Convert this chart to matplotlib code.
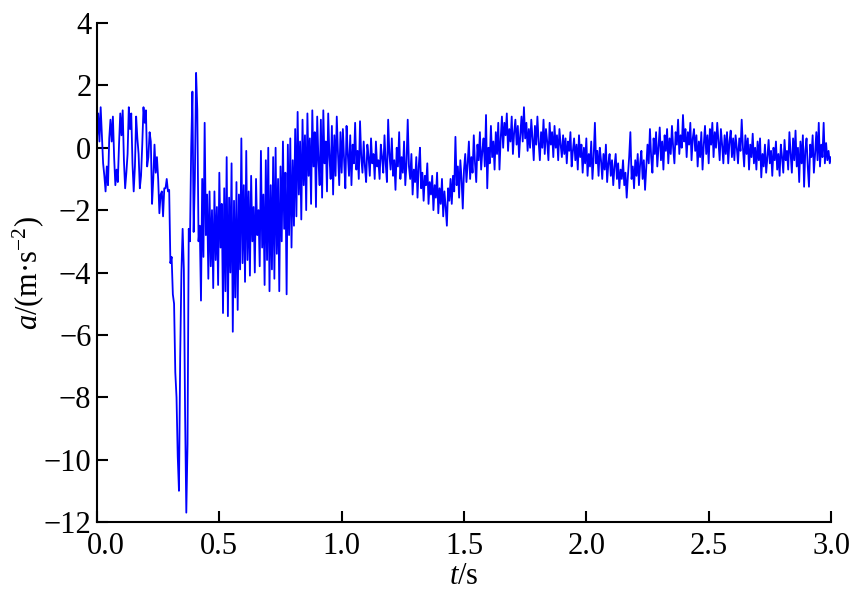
import numpy as np
import matplotlib
matplotlib.use("Agg")
import matplotlib.pyplot as plt
import matplotlib.transforms as mtransforms

# acceleration, one sample every 5 ms (rows of 10 = 0.05 s)
fs = 200

a_pre = [
    0.3, 1.1, 0.2, 1.3, 0.4, -0.5, -0.9, -1.4, -0.6, -1.2,
    0.3, 0.9, 0.2, 1.0, -0.3, -1.2, -0.7, -1.1, 0.1, 1.1,
    0.4, 1.2, -0.4, -1.3, -0.8, -0.2, 1.3, 0.6, 1.1, -0.5,
    -1.4, -0.6, 1.0, 0.3, -0.2, -1.3, -0.9, 0.1, 1.3, 0.8,
    1.2, -0.6, -0.3, 0.5, 0.2, -1.8, -1.0, 0.1, -0.8, -0.3,
    -1.0, -2.1, -1.5, -1.4, -2.2, -1.3, -1.3, -1.0, -1.4, -1.35,
]

a_impact = [
    -3.7, -3.5, -4.7, -5.0, -7.2, -8.0, -9.9, -11.0, -6.7, -4.0,
    -2.6, -3.9, -8.5, -11.7, -9.5, -2.6, -3.0, 0.0, 1.8, -2.7,
    -1.0, 2.4, 1.2, -3.0, -2.5, -4.9, -1.0, -3.5, 0.8, -2.8,
    -1.5, -4.2, -1.4, -3.8, -2.0, -4.5, -1.4, -3.6, -1.9, -4.4,
    -0.8, -3.2, -1.8, -5.3, -1.3, -4.6, -0.3, -5.4, -1.6, -4.0,
    -0.5, -5.9, -1.7, -4.8, -1.1, -5.2, -1.5, -3.9, 0.3, -3.7,
    -1.2, -4.3, -0.1, -3.6, -1.4, -4.1, -0.9, -3.0, -1.9, -4.0,
    -1.0, -2.8, -2.0, -3.8, -0.1, -3.2, -1.5, -4.4, -0.4, -3.6,
    0.0, -4.6, -1.2, -3.9, -0.3, -4.2, 0.0, -3.4, -1.0, -4.6,
    -0.6, -3.0, 0.2, -2.6, -0.8, -4.7, 0.1, -2.8, 0.3, -3.2,
]

a_decay = [
    -0.4, -2.5, 0.6, -2.2, 1.15, -1.5, 0.2, -2.3, 0.9, -1.2,
    0.4, -2.0, 1.1, -0.9, 0.3, -1.8, 1.2, -0.6, 0.5, -1.9,
    1.0, -0.4, -1.2, 0.9, -1.6, 1.2, -0.5, 0.2, -1.4, 1.1,
    -0.3, -1.0, 0.7, -1.5, 0.4, -0.9, 1.0, -0.2, -1.2, 0.5,
    -0.8, 0.6, -0.4, -1.3, 0.7, -0.2, -0.9, 0.4, -1.2, 0.1,
    -0.5, 0.8, -0.7, -0.1, -1.0, 0.85, -0.3, -0.8, 0.2, -0.6,
    -1.1, 0.1, -0.3, -0.9, 0.3, -0.5, -0.2, -1.0, 0.2, -0.6,
    -0.4, -1.0, 0.1, -0.3, -0.8, 0.4, -0.5, -1.1, 0.9, -0.2,
    -0.7, 0.3, -0.9, -0.4, -1.35, 0.0, -0.6, 0.5, -1.0, -0.3,
    -0.8, 0.2, -1.2, -0.5, 0.9, -0.6, -1.0, -0.2, -1.5, -0.7,
    -1.1, -0.3, -1.6, -0.6, 0.0, -1.3, -0.8, -1.7, -0.9, -1.2,
    -0.5, -1.8, -1.1, -1.5, -0.9, -2.0, -1.2, -1.6, -0.8, -2.1,
    -1.3, -1.8, -1.0, -2.2, -1.4, -1.9, -2.5, -1.3, -1.7, -1.0,
    -1.8, -0.9, -1.4, 0.35, -1.2, -0.6, -1.6, -0.4, -1.0, -1.95,
]

a_late = [
    -0.7, -0.2, -1.1, -0.5, 0.2, -1.0, -0.3, -0.8, 0.4, -0.5,
    -1.1, 0.1, -0.4, 0.5, -0.7, -0.1, 0.3, -0.6, 1.05, -1.3,
    0.0, -0.5, 0.7, -0.3, 0.2, -0.7, 0.5, -0.2, 0.8, -0.7,
    0.3, 1.0, 0.0, 0.8, 0.4, 1.1, -0.1, 0.6, 0.2, 1.0,
    -0.2, 0.5, 0.9, 0.1, 0.7, -0.3, 0.4, 1.0, 0.2, 1.3,
    0.3, 0.8, -0.1, 0.6, 0.0, 0.9, 0.3, -0.4, 0.7, 0.1,
    1.0, 0.2, -0.4, 0.5, 0.0, 0.9, -0.2, 0.6, 0.2, -0.4,
    0.8, 0.1, 0.5, -0.3, 0.7, 0.0, 0.4, -0.4, 0.6, 0.1,
    -0.3, 0.4, -0.2, 0.3, -0.5, 0.2, -0.1, 0.5, -0.6, -0.1,
    0.3, -0.4, 0.1, -0.7, 0.4, -0.3, 0.1, -0.8, 0.0, -0.5,
    0.3, -0.9, -0.2, -0.6, 0.2, -1.0, -0.3, 0.8, -0.5, -0.1,
    -0.9, 0.0, -0.4, -1.0, -0.2, -0.7, 0.1, -1.1, -0.5, -0.2,
    -0.9, -0.4, -1.2, -0.6, -0.2, -1.0, -0.5, -1.3, -0.7, -1.0,
    -0.4, -1.2, -0.8, -1.6, -0.9, -0.3, 0.5, -1.0, -0.6, -1.3,
    -0.4, -0.9, -0.2, -1.2, -0.5, -0.1, -1.0, -0.4, -1.35, -0.6,
    0.1, -0.5, 0.6, -0.3, -0.8, 0.3, -0.2, 0.5, -0.6, 0.0,
    0.65, -0.4, 0.2, -0.7, 0.4, -0.1, 0.6, -0.5, 0.3, -0.2,
    0.7, 0.0, -0.5, 0.5, 0.1, 0.9, -0.2, 0.4, 0.0, 1.05,
    0.2, 0.6, -0.3, 0.5, 0.1, 0.8, -0.4, 0.3, 0.6, -0.1,
    0.4, -0.6, 0.2, -0.3, 0.5, -0.7, 0.1, 0.7, -0.2, 0.4,
    -0.5, 0.6, 0.1, 0.8, -0.3, 0.5, 0.0, 0.8, 0.2, -0.4,
    0.6, 0.1, -0.5, 0.4, -0.2, 0.5, -0.5, 0.2, 0.55, -0.3,
    0.3, -0.4, 0.4, 0.0, -0.5, 0.3, -0.1, 0.9, 0.0, -0.6,
    0.4, -0.2, 0.3, -0.7, 0.1, -0.3, 0.45, -0.5, 0.0, -0.7,
    0.2, -0.4, 0.3, -0.95, -0.2, -0.6, 0.1, -0.8, -0.3, 0.25,
    -0.5, -0.1, -0.9, 0.0, -0.4, 0.2, -0.7, -0.2, -0.9, 0.1,
    -0.3, -0.8, 0.25, -0.4, -0.1, -0.7, 0.5, -0.2, -0.8, 0.3,
    -0.4, 0.55, -0.6, 0.0, -1.1, 0.2, -0.5, 0.4, -1.25, -0.1,
    0.3, -0.6, -1.25, 0.1, -0.3, 0.4, -0.8, -0.2, 0.5, -0.4,
    0.8, -0.6, 0.1, -0.3, 0.8, -0.5, 0.15, -0.4, -0.1, -0.5,
    -0.3,
]

x_ticks = [0.0, 0.5, 1.0, 1.5, 2.0, 2.5, 3.0]
y_ticks = [-12, -10, -8, -6, -4, -2, 0, 2, 4]

a = np.array(a_pre + a_impact + a_decay + a_late)
t = np.arange(len(a)) / fs

plt.rcParams['font.family'] = ['Liberation Serif', 'DejaVu Serif']
plt.rcParams['mathtext.fontset'] = 'custom'
plt.rcParams['mathtext.rm'] = 'Liberation Serif'
plt.rcParams['mathtext.it'] = 'Liberation Serif:italic'

fig = plt.figure(figsize=(8.5, 5.92), dpi=100)
ax = fig.add_axes([97 / 850, 1 - 522 / 592, 734 / 850, 499 / 592])
ax.plot(t, a, color='#0000ff', lw=1.3)

ax.set_xlim(0, 3.0)
ax.set_ylim(-12, 4)
ax.set_xticks(x_ticks)
ax.set_xticklabels(['%.1f' % v for v in x_ticks])
ax.set_yticks(y_ticks)
ax.set_yticklabels(['\u2212%d' % -v if v < 0 else '%d' % v for v in y_ticks])

ax.spines['top'].set_visible(False)
ax.spines['right'].set_visible(False)
for s in ['left', 'bottom']:
    ax.spines[s].set_linewidth(1.5)
ax.tick_params(direction='in', length=8, width=1.5, labelsize=22)
ax.tick_params(axis='x', pad=7)
ax.tick_params(axis='y', pad=4)

# the first x label sits a little right of its tick, as in the original
first = ax.get_xticklabels()[0]
first.set_transform(first.get_transform() +
                    mtransforms.ScaledTranslation(9 / 100, 0, fig.dpi_scale_trans))

ax.set_xlabel('$t$/s', fontsize=22, labelpad=1)
ax.set_ylabel('$a$/(m\u00b7s$^{\u22122}$)', fontsize=22, labelpad=-2)

fig.savefig('out.png', dpi=100)
